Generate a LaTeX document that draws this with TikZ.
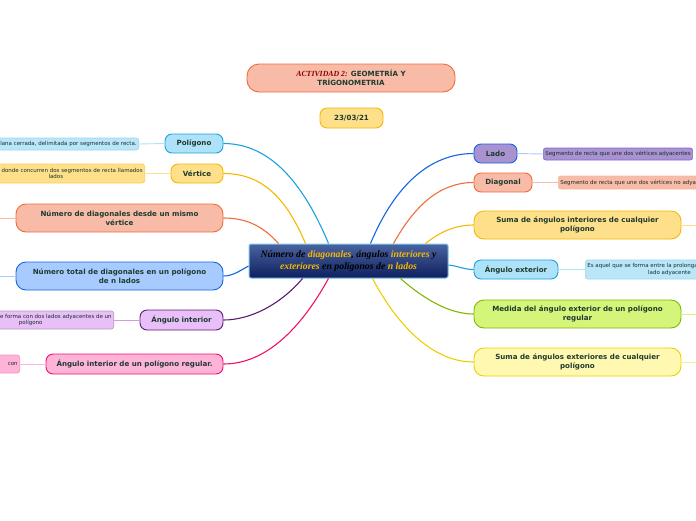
\documentclass[tikz,border=0pt]{standalone}
\usepackage{fontspec}
\setmainfont{Liberation Serif}
\setsansfont{DejaVu Sans}
\usetikzlibrary{calc}

\definecolor{ink}{HTML}{1E3B2F}
\definecolor{hil}{HTML}{F5B800}
\definecolor{navT}{HTML}{4A63A0}\definecolor{navB}{HTML}{0E1F5E}
\definecolor{salF}{HTML}{F8BBA8}\definecolor{salB}{HTML}{F26B3A}
\definecolor{yelF}{HTML}{FFE08A}\definecolor{yelB}{HTML}{F5B800}
\definecolor{cyaF}{HTML}{AEE2F8}\definecolor{cyaB}{HTML}{1BA1E2}
\definecolor{bluF}{HTML}{A8CBFF}\definecolor{bluB}{HTML}{1565E0}
\definecolor{purF}{HTML}{E8BFF8}\definecolor{purB}{HTML}{5B1B70}
\definecolor{pinF}{HTML}{FFB3D9}\definecolor{pinB}{HTML}{F0106B}
\definecolor{lavF}{HTML}{A992CF}
\definecolor{limF}{HTML}{D4F57A}\definecolor{limB}{HTML}{7FB800}
\definecolor{lyeF}{HTML}{FFF8B0}\definecolor{lyeB}{HTML}{EBD000}

\begin{document}
\begin{tikzpicture}[
  x=1pt, y=-1pt,
  topic/.style ={draw,rounded corners=10pt,line width=0.9pt,align=center,inner sep=1pt,
                 text=ink,font=\sffamily\bfseries\fontsize{7.1}{8.6}\selectfont},
  small/.style ={topic,rounded corners=7pt},
  defn/.style  ={draw,rounded corners=2.5pt,line width=0.6pt,align=center,inner sep=2pt,
                 text=ink!80!black,font=\sffamily\fontsize{5.5}{6.4}\selectfont},
  br/.style    ={line width=1.1pt},
  tw/.style    ={line width=0.9pt},
]
\useasboundingbox (0,0) rectangle (696,520);

% ----------------------------------------------------------- heading
\node[topic,fill=salF,draw=salB,minimum width=208,minimum height=28,rounded corners=12pt] (tit) at (351,78)
  {{\rmfamily\itshape\fontsize{7.8}{8.6}\selectfont\color{red!55!black}ACTIVIDAD 2:} GEOMETRÍA Y\\TRÍGONOMETRIA};
\node[small,fill=yelF,draw=yelB,minimum width=63,minimum height=20] (fecha) at (351.5,118) {23/03/21};

% ----------------------------------------------------------- central topic
\node[draw=cyaB!60,line width=1pt,rounded corners=2pt,top color=navT,bottom color=navB,
      minimum width=199,minimum height=34,align=center,inner sep=1pt,
      font=\rmfamily\bfseries\itshape\fontsize{9.8}{11.4}\selectfont] (cen) at (348.5,261)
  {Número de \textcolor{hil}{diagonales}, ángulos \textcolor{hil}{interiores} y\\
   \textcolor{hil}{exteriores} en polígonos de \textcolor{hil}{n lados}};

% ----------------------------------------------------------- left side
\node[small,fill=cyaF,draw=cyaB,minimum width=58,minimum height=19] (pol) at (194,143.5) {Polígono};
\node[defn,fill=cyaF!85!white,draw=cyaB!45,minimum height=12,anchor=east] (polD) at (139,144)
  {Figura plana cerrada, delimitada por segmentos de recta.};
\node[small,fill=yelF,draw=yelB,minimum width=52,minimum height=19] (ver) at (197,173.5) {Vértice};
\node[defn,fill=yelF,draw=yelB!70,minimum height=19,anchor=east] (verD) at (145,173.5)
  {Es el punto donde concurren dos segmentos de recta llamados\\lados};
\node[topic,fill=salF,draw=salB,minimum width=207,minimum height=28] (ndv) at (119.5,218)
  {Número de diagonales desde un mismo\\vértice};
\node[topic,fill=bluF,draw=bluB,minimum width=207,minimum height=28] (ndt) at (119.5,276)
  {Número total de diagonales en un polígono\\de n lados};
\node[small,fill=purF,draw=purB,minimum width=83,minimum height=20] (ain) at (181.5,320) {Ángulo interior};
\node[defn,fill=purF,draw=purB!45,minimum height=18,anchor=east] (ainD) at (114,320)
  {Es el ángulo que se forma con dos lados adyacentes de un\\polígono};
\node[small,fill=pinF,draw=pinB,minimum width=177,minimum height=20] (air) at (134.5,364)
  {Ángulo interior de un polígono regular.};
\node[defn,fill=pinF,draw=pinB!45,minimum height=18,text width=70,align=right,anchor=east] (airD) at (20,364)
  {con\\[1pt]};

\coordinate (ndvX) at (-20,218);
\coordinate (ndtX) at (-20,276);

% ----------------------------------------------------------- right side
\node[small,fill=lavF,draw=bluB,minimum width=43,minimum height=19] (lad) at (495.5,153.5) {Lado};
\node[defn,fill=lavF,draw=lavF!70!blue,minimum height=12,anchor=west] (ladD) at (543,154)
  {Segmento de recta que une dos vértices adyacentes};
\node[small,fill=salF,draw=salB,minimum width=58,minimum height=19] (dia) at (503,182.5) {Diagonal};
\node[defn,fill=salF,draw=salB!50,minimum height=13,anchor=west] (diaD) at (558,182.5)
  {Segmento de recta que une dos vértices no adyacentes};
\node[topic,fill=yelF,draw=yelB,minimum width=207,minimum height=28] (sai) at (577.5,225)
  {Suma de ángulos interiores de cualquier\\polígono};
\node[small,fill=cyaF,draw=cyaB,minimum width=84,minimum height=19] (aex) at (516,269.5) {Ángulo exterior};
\node[defn,fill=cyaF!85!white,draw=cyaB!45,minimum height=19,anchor=west] (aexD) at (585,269.5)
  {Es aquel que se forma entre la prolongación de un lado y el\\lado adyacente};
\node[topic,fill=limF,draw=limB,minimum width=207,minimum height=28] (mae) at (577.5,314)
  {Medida del ángulo exterior de un polígono\\regular};
\node[topic,fill=lyeF,draw=lyeB,minimum width=207,minimum height=28] (sae) at (577.5,362)
  {Suma de ángulos exteriores de cualquier\\polígono};

\coordinate (saiX) at (716,225);
\coordinate (maeX) at (716,314);
\coordinate (saeX) at (716,362);

% ----------------------------------------------------------- branches, left
\draw[br,cyaB] ($(cen.north)+(-20,0)$) .. controls (300,175) and (265,143.5) .. (pol.east);
\draw[br,yelB] ($(cen.north)+(-43,0)$) .. controls (285,195) and (260,173.5) .. (ver.east);
\draw[br,salB] ($(cen.north)+(-70,0)$) .. controls (262,225) and (245,218) .. (ndv.east);
\draw[br,bluB] ($(cen.west)+(0,5)$) .. controls (238,272) and (232,276) .. (ndt.east);
\draw[br,purB] ($(cen.south)+(-46,0)$) .. controls (280,305) and (250,320) .. (ain.east);
\draw[br,pinB] ($(cen.south)+(-20,0)$) .. controls (300,330) and (265,364) .. (air.east);

% ----------------------------------------------------------- branches, right
\draw[br,bluB] ($(cen.north)+(22,0)$) .. controls (395,185) and (430,153.5) .. (lad.west);
\draw[br,salB] ($(cen.north)+(45,0)$) .. controls (415,205) and (440,182.5) .. (dia.west);
\draw[br,yelB] ($(cen.north)+(77,0)$) .. controls (440,232) and (455,225) .. (sai.west);
\draw[br,cyaB] ($(cen.east)+(0,4)$) .. controls (458,266) and (464,269.5) .. (aex.west);
\draw[br,limB] ($(cen.south)+(52,0)$) .. controls (425,300) and (450,314) .. (mae.west);
\draw[br,lyeB] ($(cen.south)+(24,0)$) .. controls (400,330) and (435,362) .. (sae.west);

% ----------------------------------------------------------- twigs to definitions
\draw[tw,cyaF] (pol.west) -- (polD.east);
\draw[tw,yelF] (ver.west) -- (verD.east);
\draw[tw,salF] (ndv.west) -- (ndvX);
\draw[tw,bluF] (ndt.west) -- (ndtX);
\draw[tw,purF!80!purB] (ain.west) -- (ainD.east);
\draw[tw,pinF] (air.west) -- (airD.east);
\draw[tw,bluF] (lad.east) -- (ladD.west);
\draw[tw,salF] (dia.east) -- (diaD.west);
\draw[tw,yelF] (sai.east) -- (saiX);
\draw[tw,cyaF] (aex.east) -- (aexD.west);
\draw[tw,limF] (mae.east) -- (maeX);
\draw[tw,lyeF!80!lyeB] (sae.east) -- (saeX);

\end{tikzpicture}
\end{document}
